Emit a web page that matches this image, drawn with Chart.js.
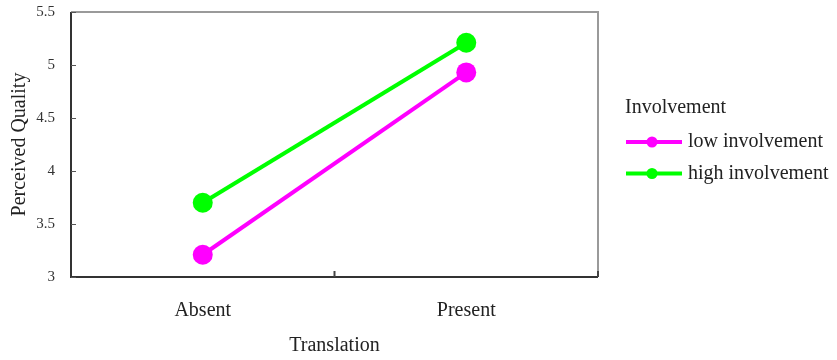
<!DOCTYPE html>
<html>
<head>
<meta charset="utf-8">
<script src="https://cdn.jsdelivr.net/npm/chart.js@4/dist/chart.umd.min.js"></script>
<style>
  html, body { margin: 0; padding: 0; background: #ffffff; }
  #wrap { width: 837px; height: 360px; position: relative; }
</style>
</head>
<body>
<div id="wrap"><canvas id="c" width="837" height="360"></canvas></div>
<script>
// Perceived quality by translation condition and involvement level
const categories = ['Absent', 'Present'];
const lowInvolvement = [3.21, 4.93];
const highInvolvement = [3.70, 5.21];
const seriesNames = ['low involvement', 'high involvement'];
const legendTitle = 'Involvement';
const yTicks = [3, 3.5, 4, 4.5, 5, 5.5];

const SERIF = '"Liberation Serif", "Times New Roman", serif';
const MAGENTA = '#ff00ff';
const GREEN = '#00ff00';

// Frame, inward tick marks and the side legend
const framePlugin = {
  id: 'frame',
  afterDraw(chart) {
    const ctx = chart.ctx;
    const a = chart.chartArea;
    const xs = chart.scales.x;
    const ys = chart.scales.y;
    ctx.save();
    // top and right border (light)
    ctx.strokeStyle = '#9a9a9a';
    ctx.lineWidth = 2;
    ctx.beginPath();
    ctx.moveTo(a.left, a.top);
    ctx.lineTo(a.right, a.top);
    ctx.lineTo(a.right, a.bottom);
    ctx.stroke();
    // left and bottom axis lines (dark)
    ctx.strokeStyle = '#333333';
    ctx.beginPath();
    ctx.moveTo(a.left, a.top);
    ctx.lineTo(a.left, a.bottom);
    ctx.lineTo(a.right, a.bottom);
    ctx.stroke();
    // y ticks pointing inward
    ctx.lineWidth = 1;
    ctx.strokeStyle = '#555555';
    yTicks.forEach(v => {
      const y = Math.round(ys.getPixelForValue(v)) + 0.5;
      ctx.beginPath();
      ctx.moveTo(a.left, y);
      ctx.lineTo(a.left + 5, y);
      ctx.stroke();
    });
    // x ticks between categories, pointing up
    ctx.lineWidth = 2;
    ctx.strokeStyle = '#444444';
    const mid = (xs.getPixelForValue(0) + xs.getPixelForValue(1)) / 2;
    [mid, a.right].forEach(x => {
      ctx.beginPath();
      ctx.moveTo(x, a.bottom);
      ctx.lineTo(x, a.bottom - 6);
      ctx.stroke();
    });

    // legend
    ctx.fillStyle = '#222222';
    ctx.font = '20px ' + SERIF;
    ctx.textBaseline = 'middle';
    ctx.textAlign = 'left';
    ctx.fillText(legendTitle, 625, 108);
    chart.data.datasets.forEach((ds, i) => {
      const y = 142 + i * 31.5;
      ctx.strokeStyle = ds.borderColor;
      ctx.lineWidth = 4;
      ctx.beginPath();
      ctx.moveTo(626, y);
      ctx.lineTo(682, y);
      ctx.stroke();
      ctx.fillStyle = ds.borderColor;
      ctx.beginPath();
      ctx.arc(652, y, 5.5, 0, Math.PI * 2);
      ctx.fill();
      ctx.fillStyle = '#222222';
      ctx.fillText(ds.label, 688, y);
    });
    ctx.restore();
  }
};

new Chart(document.getElementById('c'), {
  type: 'line',
  data: {
    labels: categories,
    datasets: [
      {
        label: seriesNames[0],
        data: lowInvolvement,
        borderColor: MAGENTA,
        backgroundColor: MAGENTA,
        borderWidth: 4,
        pointRadius: 10,
        pointHoverRadius: 10,
        pointBorderWidth: 0
      },
      {
        label: seriesNames[1],
        data: highInvolvement,
        borderColor: GREEN,
        backgroundColor: GREEN,
        borderWidth: 4,
        pointRadius: 10,
        pointHoverRadius: 10,
        pointBorderWidth: 0
      }
    ]
  },
  options: {
    responsive: false,
    animation: false,
    devicePixelRatio: 1,
    layout: { padding: { left: 0, right: 239, top: 12, bottom: 0 } },
    plugins: {
      legend: { display: false },
      tooltip: { enabled: false }
    },
    scales: {
      x: {
        type: 'category',
        offset: true,
        grid: { display: false, offset: true, drawTicks: false },
        border: { display: false },
        ticks: {
          padding: 22,
          color: '#222222',
          font: { family: SERIF, size: 20 }
        },
        title: {
          display: true,
          text: 'Translation',
          color: '#222222',
          font: { family: SERIF, size: 20 },
          padding: { top: 0, bottom: 2 }
        },
        afterFit(scale) {
          scale.height = 83;
          scale.paddingLeft = 0;
          scale.paddingRight = 0;
        }
      },
      y: {
        min: 3,
        max: 5.5,
        grid: { display: false, drawTicks: false },
        border: { display: false },
        afterBuildTicks(scale) { scale.ticks = yTicks.map(v => ({ value: v })); },
        ticks: {
          padding: 16,
          color: '#333333',
          font: { family: SERIF, size: 15 },
          callback: v => String(v)
        },
        title: {
          display: true,
          text: 'Perceived Quality',
          color: '#222222',
          font: { family: SERIF, size: 20 },
          padding: { top: 8, bottom: 0 }
        },
        afterFit(scale) {
          scale.width = 71;
          scale.paddingTop = 0;
          scale.paddingBottom = 0;
        }
      }
    }
  },
  plugins: [framePlugin]
});
</script>
</body>
</html>
